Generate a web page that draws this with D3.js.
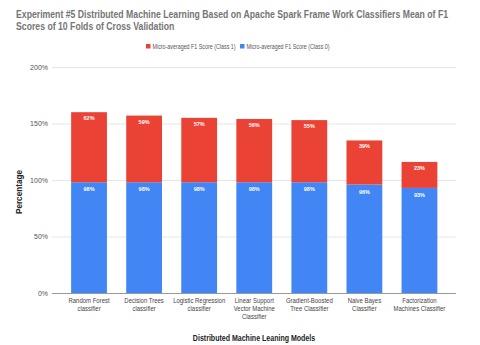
<!DOCTYPE html>
<html>
<head>
<meta charset="utf-8">
<script src="https://cdnjs.cloudflare.com/ajax/libs/d3/7.8.5/d3.min.js"></script>
<style>
  body { margin: 0; background: #fff; }
  text { font-family: "Liberation Sans", Arial, sans-serif; }
</style>
</head>
<body>
<div id="chart"></div>
<script>
// data
var models = [
  ["Random Forest", "classifier"],
  ["Decision Trees", "classifier"],
  ["Logistic Regression", "classifier"],
  ["Linear Support", "Vector Machine", "Classifier"],
  ["Gradient-Boosted", "Tree Classifier"],
  ["Naive Bayes", "Classifier"],
  ["Factorization", "Machines Classifier"]
];
var class0 = [98, 98, 98, 98, 98, 96, 93];
var class1 = [62, 59, 57, 56, 55, 39, 23];
var yTicks = [0, 50, 100, 150, 200];
var seriesNames = ["Micro-averaged F1 Score (Class 1)", "Micro-averaged F1 Score (Class 0)"];
var colors = ["#ea4335", "#4285f4"];

var width = 480, height = 345;

var svg = d3.select("#chart").append("svg")
    .attr("width", width)
    .attr("height", height);

var xScale = d3.scaleBand()
    .domain(d3.range(models.length))
    .range([61.5, 447])
    .paddingInner(0.35)
    .paddingOuter(0.175);

var yScale = d3.scaleLinear()
    .domain([0, 200])
    .range([293, 67]);

// title (squeezed to the width of the original)
var title = svg.append("g")
    .attr("transform", "translate(16,0) scale(0.82,1)")
    .style("font-size", "10.6px").style("font-weight", "bold").style("fill", "#757575");
title.append("text")
    .attr("x", 0).attr("y", 18)
    .text("Experiment #5 Distributed Machine Learning Based on Apache Spark Frame Work Classifiers Mean of F1");
title.append("text")
    .attr("x", 0).attr("y", 30.5)
    .text("Scores of 10 Folds of Cross Validation");

// legend
var legend = svg.append("g");
var legX = [146, 240];
seriesNames.forEach(function(n, i) {
  legend.append("rect")
      .attr("x", legX[i]).attr("y", 44)
      .attr("width", 4.5).attr("height", 4.5)
      .attr("fill", colors[i]);
  legend.append("text")
      .attr("transform", "translate(" + (legX[i] + 6.5) + ",49) scale(0.85,1)")
      .style("font-size", "6.3px").style("fill", "#555")
      .text(n);
});

// gridlines + y labels
svg.selectAll(".grid")
    .data(yTicks)
    .enter().append("line")
    .attr("x1", 52).attr("x2", 456)
    .attr("y1", function(d) { return yScale(d) + 0.5; })
    .attr("y2", function(d) { return yScale(d) + 0.5; })
    .attr("stroke", function(d) { return d === 0 ? "#999" : "#e6e6e6"; })
    .attr("stroke-width", 1);

svg.selectAll(".ylab")
    .data(yTicks)
    .enter().append("text")
    .attr("x", 48)
    .attr("y", function(d) { return yScale(d) + 2.5; })
    .attr("text-anchor", "end")
    .style("font-size", "7px").style("fill", "#555")
    .text(function(d) { return d + "%"; });

// bars: class 0 (bottom)
svg.selectAll(".bar0")
    .data(class0)
    .enter().append("rect")
    .attr("x", function(d, i) { return xScale(i); })
    .attr("width", xScale.bandwidth())
    .attr("y", function(d) { return yScale(d); })
    .attr("height", function(d) { return yScale(0) - yScale(d); })
    .attr("fill", colors[1]);

// class 1 stacked on top
svg.selectAll(".bar1")
    .data(class1)
    .enter().append("rect")
    .attr("x", function(d, i) { return xScale(i); })
    .attr("width", xScale.bandwidth())
    .attr("y", function(d, i) { return yScale(class0[i] + d); })
    .attr("height", function(d, i) { return yScale(class0[i]) - yScale(class0[i] + d); })
    .attr("fill", colors[0]);

// value labels
svg.selectAll(".lab0")
    .data(class0)
    .enter().append("text")
    .attr("x", function(d, i) { return xScale(i) + xScale.bandwidth() / 2; })
    .attr("y", function(d) { return yScale(d) + 9; })
    .attr("text-anchor", "middle")
    .style("font-size", "5.5px").style("font-weight", "bold").style("fill", "#fff")
    .text(function(d) { return d + "%"; });

svg.selectAll(".lab1")
    .data(class1)
    .enter().append("text")
    .attr("x", function(d, i) { return xScale(i) + xScale.bandwidth() / 2; })
    .attr("y", function(d, i) { return yScale(class0[i] + d) + 8; })
    .attr("text-anchor", "middle")
    .style("font-size", "5.5px").style("font-weight", "bold").style("fill", "#fff")
    .text(function(d) { return d + "%"; });

// x labels (squeezed horizontally like the original condensed face)
var xl = svg.selectAll(".xlab")
    .data(models)
    .enter().append("text")
    .attr("text-anchor", "middle")
    .style("font-size", "7.2px").style("fill", "#444")
    .attr("transform", function(d, i) {
      return "translate(" + (xScale(i) + xScale.bandwidth() / 2) + ",303) scale(0.83,1)";
    });
xl.selectAll("tspan")
    .data(function(d) { return d; })
    .enter().append("tspan")
    .attr("x", 0)
    .attr("dy", function(d, j) { return j === 0 ? 0 : "7.8"; })
    .text(function(d) { return d; });

// axis titles
svg.append("text")
    .attr("transform", "translate(254,341) scale(0.86,1)")
    .attr("text-anchor", "middle")
    .style("font-size", "8.2px").style("font-weight", "bold").style("fill", "#222")
    .text("Distributed Machine Leaning Models");

svg.append("text")
    .attr("transform", "translate(22,192) rotate(-90)")
    .attr("text-anchor", "middle")
    .style("font-size", "8.2px").style("font-weight", "bold").style("fill", "#222")
    .text("Percentage");
</script>
</body>
</html>
